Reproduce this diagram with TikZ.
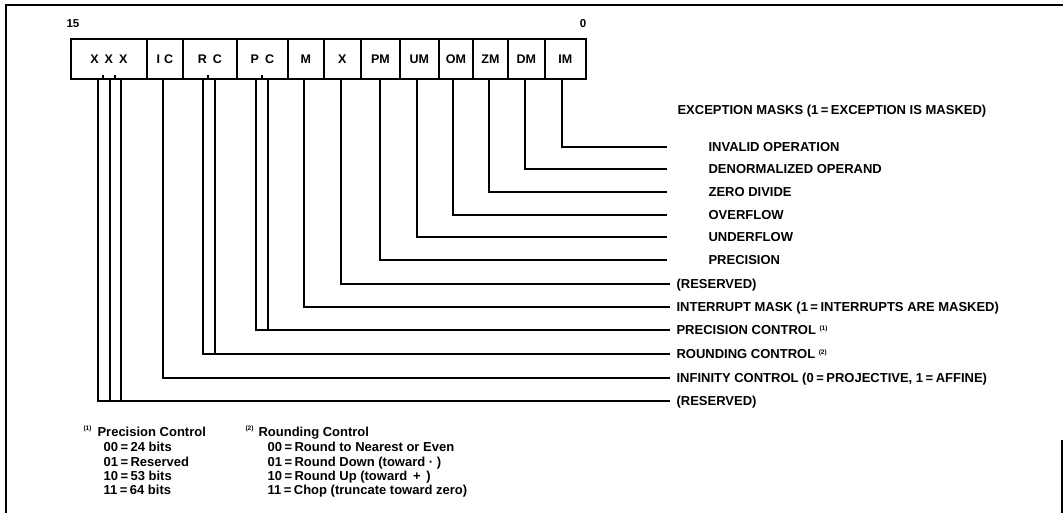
\documentclass[tikz,border=0pt]{standalone}
\usepackage{fontspec}
\setmainfont{Liberation Sans}
\newcommand{\fnmark}[1]{\raisebox{4pt}{\fontsize{6.5}{6.5}\selectfont(#1)}}
\newcommand{\eqs}{\hspace{2.5pt}=\hspace{2.5pt}}
\begin{document}
\begin{tikzpicture}[x=1pt,y=-1pt,
  font=\bfseries\fontsize{13}{15}\selectfont,
  line width=1.1pt,
  cell/.style={draw, line width=1.8pt, minimum height=40pt, inner sep=0pt, anchor=west, font=\bfseries\fontsize{12.5}{14}\selectfont},
  lbl/.style={anchor=west, inner xsep=6pt, inner ysep=0pt, text height=9.3pt, text depth=0pt},
  elbl/.style={anchor=west, inner sep=0pt, text height=9.3pt, text depth=0pt},
  fn/.style={anchor=base west, inner sep=0pt},
  fnm/.style={anchor=base west, inner sep=0pt, font=\bfseries\fontsize{6.5}{6.5}\selectfont}]
\useasboundingbox (0,0) rectangle (1063,513);
% frame
\draw[line width=1.5pt] (6,513) -- (6,5) -- (1063,5);
\draw[line width=1.5pt] (1062,440) -- (1062,513);
% bit numbers
\node[inner sep=0pt, font=\bfseries\fontsize{11.5}{13}\selectfont] (b15) at (73,24) {15};
\node[inner sep=0pt, font=\bfseries\fontsize{11.5}{13}\selectfont] (b0) at (583,24) {0};
% register cells
\node[cell, minimum width=76pt] (cXXX) at (70,59) {X\hspace{6pt}X\hspace{6pt}X};
\node[cell, minimum width=36pt] (cIC) at (146,59) {I\hspace{4pt}C};
\node[cell, minimum width=54pt] (cRC) at (182,59) {R\hspace{6pt}C};
\node[cell, minimum width=51pt] (cPC) at (236,59) {P\hspace{6pt}C};
\node[cell, minimum width=36pt] (cM) at (287,59) {M};
\node[cell, minimum width=37pt] (cX) at (323,59) {X};
\node[cell, minimum width=39pt] (cPM) at (360,59) {PM};
\node[cell, minimum width=39pt] (cUM) at (399,59) {UM};
\node[cell, minimum width=34pt] (cOM) at (438,59) {OM};
\node[cell, minimum width=35pt] (cZM) at (472,59) {ZM};
\node[cell, minimum width=37pt] (cDM) at (507,59) {DM};
\node[cell, minimum width=41pt] (cIM) at (544,59) {IM};
% bit ticks
\foreach \t in {103,115,208,262} \draw (\t,79) -- (\t,75);
% line start coordinates at the bottom of the register
\coordinate (sX1) at (98,79);
\coordinate (sX2) at (110,79);
\coordinate (sX3) at (121,79);
\coordinate (sIC) at (163,79);
\coordinate (sRC1) at (203,79);
\coordinate (sRC2) at (215,79);
\coordinate (sPC1) at (256,79);
\coordinate (sPC2) at (268,79);
\coordinate (sM) at (304,79);
\coordinate (sX) at (341,79);
\coordinate (sPM) at (380,79);
\coordinate (sUM) at (417,79);
\coordinate (sOM) at (453,79);
\coordinate (sZM) at (489,79);
\coordinate (sDM) at (525,79);
\coordinate (sIM) at (562,79);
% exception masks
\node[elbl] (hEM) at (677,110) {EXCEPTION MASKS (1\eqs EXCEPTION IS MASKED)};
\node[elbl] (lIM) at (708,147) {INVALID OPERATION};
\node[elbl] (lDM) at (708,169) {DENORMALIZED OPERAND};
\node[elbl] (lZM) at (708,192) {ZERO DIVIDE};
\node[elbl] (lOM) at (708,215) {OVERFLOW};
\node[elbl] (lUM) at (708,237) {UNDERFLOW};
\node[elbl] (lPM) at (708,260) {PRECISION};
\coordinate (eIM) at (667,147);
\coordinate (eDM) at (667,169);
\coordinate (eZM) at (667,192);
\coordinate (eOM) at (667,215);
\coordinate (eUM) at (667,237);
\coordinate (ePM) at (667,260);
\draw (sIM) |- (eIM);
\draw (sDM) |- (eDM);
\draw (sZM) |- (eZM);
\draw (sOM) |- (eOM);
\draw (sUM) |- (eUM);
\draw (sPM) |- (ePM);
% other fields
\node[lbl] (lX) at (670,284) {(RESERVED)};
\node[lbl] (lM) at (670,307) {INTERRUPT MASK (1\eqs INTERRUPTS ARE MASKED)};
\node[lbl] (lPC) at (670,330) {PRECISION CONTROL \fnmark{1}};
\node[lbl] (lRC) at (670,354) {ROUNDING CONTROL \fnmark{2}};
\node[lbl] (lIC) at (670,378) {INFINITY CONTROL (0\eqs PROJECTIVE, 1\eqs AFFINE)};
\node[lbl] (lXXX) at (670,401) {(RESERVED)};
\draw (sX) |- (lX.west);
\draw (sM) |- (lM.west);
\draw (sPC1) |- (lPC.west);
\draw (sPC2) |- (lPC.west);
\draw (sRC1) |- (lRC.west);
\draw (sRC2) |- (lRC.west);
\draw (sIC) |- (lIC.west);
\draw (sX1) |- (lXXX.west);
\draw (sX2) |- (lXXX.west);
\draw (sX3) |- (lXXX.west);
% footnotes
\node[fnm] (m1) at (83,430) {(1)};
\node[fn] (f1) at (97,436) {Precision Control};
\node[fn] (f1a) at (103,451) {00\eqs 24 bits};
\node[fn] (f1b) at (103,466) {01\eqs Reserved};
\node[fn] (f1c) at (103,480) {10\eqs 53 bits};
\node[fn] (f1d) at (103,494) {11\eqs 64 bits};
\node[fnm] (m2) at (245,430) {(2)};
\node[fn] (f2) at (258,436) {Rounding Control};
\node[fn] (f2a) at (267,451) {00\eqs Round to Nearest or Even};
\node[fn] (f2b) at (267,466) {01\eqs Round Down (toward · )};
\node[fn] (f2c) at (267,480) {10\eqs Round Up (toward \,+\, )};
\node[fn] (f2d) at (267,494) {11\eqs Chop (truncate toward zero)};
\end{tikzpicture}
\end{document}
